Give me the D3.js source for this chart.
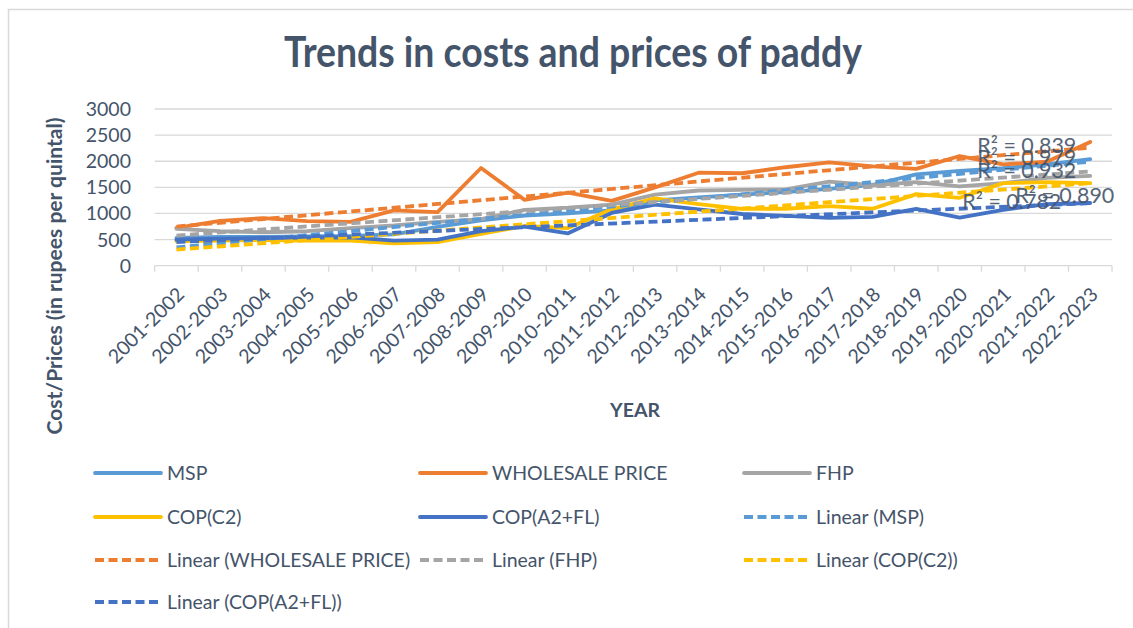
<!DOCTYPE html>
<html>
<head>
<meta charset="utf-8">
<script src="https://cdn.jsdelivr.net/npm/d3@7"></script>
<style>
  body { margin: 0; background: #fff; }
  text { font-family: Lato, "Open Sans", sans-serif; fill: #44546A; }
</style>
</head>
<body>
<div id="app"></div>
<script>
// data (Rs per quintal)
const years = ["2001-2002", "2002-2003", "2003-2004", "2004-2005", "2005-2006", "2006-2007",
	"2007-2008", "2008-2009", "2009-2010", "2010-2011", "2011-2012", "2012-2013", "2013-2014",
	"2014-2015", "2015-2016", "2016-2017", "2017-2018", "2018-2019", "2019-2020", "2020-2021",
	"2021-2022", "2022-2023"];

const msp = [530, 550, 550, 560, 570, 600, 745, 870, 960, 1000, 1060, 1250, 1310, 1360, 1410,
	1470, 1550, 1750, 1815, 1868, 1940, 2040];
const wholesale = [724, 860, 910, 853, 840, 1058, 1026, 1870, 1260, 1400, 1240, 1500, 1780, 1770,
	1885, 1980, 1900, 1853, 2100, 1940, 1990, 2370];
const fhp = [705, 660, 640, 660, 720, 770, 840, 890, 1070, 1110, 1170, 1360, 1440, 1450, 1460,
	1610, 1540, 1600, 1520, 1580, 1680, 1720];
const copC2 = [470, 480, 490, 480, 480, 430, 450, 610, 760, 720, 1080, 1290, 1180, 1090, 1090,
	1140, 1090, 1370, 1300, 1580, 1600, 1580];
const copA2FL = [500, 520, 530, 540, 545, 480, 500, 660, 750, 620, 1010, 1170, 1080, 990, 955,
	915, 935, 1090, 920, 1070, 1180, 1200];

const seriesNames = ["MSP", "WHOLESALE PRICE", "FHP", "COP(C2)", "COP(A2+FL)"];
const rSquared = ["0.979", "0.839", "0.932", "0.890", "0.782"];
const yTicks = [0, 500, 1000, 1500, 2000, 2500, 3000];

const colors = ["#5B9BD5", "#ED7D31", "#A5A5A5", "#FFC000", "#4472C4"];
const seriesValues = [msp, wholesale, fhp, copC2, copA2FL];

// where excel dropped the R² boxes (offset from last category, value-space baseline)
const r2Pos = [
	{ dx: -113, v: 1928 },
	{ dx: -113, v: 2158 },
	{ dx: -113, v: 1680 },
	{ dx: -75, v: 1191 },
	{ dx: -128, v: 1095 }
];

const W = 1133, H = 628;
const plot = { left: 154.7, right: 1112, top: 109, bottom: 265.7 };
const lw = 3.8;

const svg = d3.select("#app").append("svg")
	.attr("width", W)
	.attr("height", H);

svg.append("rect")
	.attr("width", W).attr("height", H)
	.attr("fill", "#fff");

// chart area border
svg.append("rect")
	.attr("x", 8.5).attr("y", 9.5)
	.attr("width", 1140).attr("height", 700)
	.attr("fill", "none")
	.attr("stroke", "#D9D9D9")
	.attr("stroke-width", 1.5);

let x = d3.scaleBand()
	.domain(years)
	.range([plot.left, plot.right]);

let y = d3.scaleLinear()
	.domain([0, 3000])
	.range([plot.bottom, plot.top]);

const cx = d => x(d) + x.bandwidth() / 2;

// gridlines
svg.append("g")
	.selectAll("line")
	.data(yTicks)
	.enter()
	.append("line")
		.attr("x1", plot.left)
		.attr("x2", plot.right)
		.attr("y1", d => y(d))
		.attr("y2", d => y(d))
		.attr("stroke", "#D9D9D9")
		.attr("stroke-width", 1.3);

// y labels
svg.append("g")
	.selectAll("text")
	.data(yTicks)
	.enter()
	.append("text")
		.attr("x", 131)
		.attr("y", d => y(d))
		.attr("dy", "0.36em")
		.attr("text-anchor", "end")
		.style("font-size", "19.5px")
		.text(d => d);

// x axis ticks (between categories)
svg.append("g")
	.selectAll("line")
	.data(years.concat(["end"]))
	.enter()
	.append("line")
		.attr("x1", (d, i) => i < years.length ? x(d) : plot.right)
		.attr("x2", (d, i) => i < years.length ? x(d) : plot.right)
		.attr("y1", plot.bottom)
		.attr("y2", plot.bottom + 6)
		.attr("stroke", "#D9D9D9")
		.attr("stroke-width", 1.3);

// x labels, rotated
svg.append("g")
	.selectAll("text")
	.data(years)
	.enter()
	.append("text")
		.attr("transform", d => "translate(" + (cx(d) + 4) + "," + (plot.bottom + 25) + ")rotate(-45)")
		.attr("text-anchor", "end")
		.attr("dy", "0.36em")
		.style("font-size", "19.5px")
		.text(d => d);

// axis titles
svg.append("text")
	.attr("x", 635)
	.attr("y", 417)
	.attr("text-anchor", "middle")
	.style("font-size", "19.5px")
	.style("font-weight", "bold")
	.text("YEAR");

svg.append("text")
	.attr("transform", "translate(62,276)rotate(-90)")
	.attr("text-anchor", "middle")
	.style("font-size", "20px")
	.style("font-weight", "bold")
	.attr("textLength", 317)
	.attr("lengthAdjust", "spacingAndGlyphs")
	.text("Cost/Prices (in rupees per quintal)");

// title
svg.append("text")
	.attr("x", 573)
	.attr("y", 67)
	.attr("text-anchor", "middle")
	.style("font-size", "42px")
	.style("font-weight", "bold")
	.attr("textLength", 578)
	.attr("lengthAdjust", "spacingAndGlyphs")
	.text("Trends in costs and prices of paddy");

// least squares on the category index, same as excel's linear trendline
function linearFit(vals) {
	let n = vals.length;
	let xs = vals.map((v, i) => i + 1);
	let mx = d3.mean(xs), my = d3.mean(vals);
	let sxy = d3.sum(xs, (xv, i) => (xv - mx) * (vals[i] - my));
	let sxx = d3.sum(xs, xv => (xv - mx) * (xv - mx));
	let b = sxy / sxx;
	let a = my - b * mx;
	return [a + b * 1, a + b * n];
}

let line = d3.line()
	.x((d, i) => cx(years[i]))
	.y(d => y(d));

// actual series
seriesValues.forEach(function(vals, k) {
	svg.append("path")
		.datum(vals)
		.attr("fill", "none")
		.attr("stroke", colors[k])
		.attr("stroke-width", lw)
		.attr("stroke-linejoin", "round")
		.attr("stroke-linecap", "round")
		.attr("d", line);
});

// trendlines
seriesValues.forEach(function(vals, k) {
	let ends = linearFit(vals);
	svg.append("line")
		.attr("x1", cx(years[0]))
		.attr("x2", cx(years[years.length - 1]))
		.attr("y1", y(ends[0]))
		.attr("y2", y(ends[1]))
		.attr("stroke", colors[k])
		.attr("stroke-width", lw)
		.attr("stroke-dasharray", "9,4.5");
});

// R² labels
svg.append("g")
	.selectAll("text")
	.data(rSquared)
	.enter()
	.append("text")
		.attr("x", (d, i) => cx(years[years.length - 1]) + r2Pos[i].dx)
		.attr("y", (d, i) => y(r2Pos[i].v))
		.style("font-size", "21.5px")
		.style("fill", "#44546A")
		.style("opacity", 0.9)
		.text(d => "R² = " + d);

// legend, 3 columns like excel lays it out
const legendItems = seriesNames.map((name, k) => ({ name: name, color: colors[k], dash: false }))
	.concat(seriesNames.map((name, k) => ({ name: "Linear (" + name + ")", color: colors[k], dash: true })));
const colX = [95, 420, 744];
const rowY = [473, 517, 560, 602];

let legend = svg.append("g")
	.selectAll("g")
	.data(legendItems)
	.enter()
	.append("g")
		.attr("transform", (d, i) => "translate(" + colX[i % 3] + "," + rowY[Math.floor(i / 3)] + ")");

legend.append("line")
	.attr("x1", 0).attr("x2", 66)
	.attr("stroke", d => d.color)
	.attr("stroke-width", lw)
	.attr("stroke-linecap", d => d.dash ? "butt" : "round")
	.attr("stroke-dasharray", d => d.dash ? "9,4.5" : null);

legend.append("text")
	.attr("x", 72)
	.attr("dy", "0.36em")
	.style("font-size", "19.5px")
	.text(d => d.name);
</script>
</body>
</html>
